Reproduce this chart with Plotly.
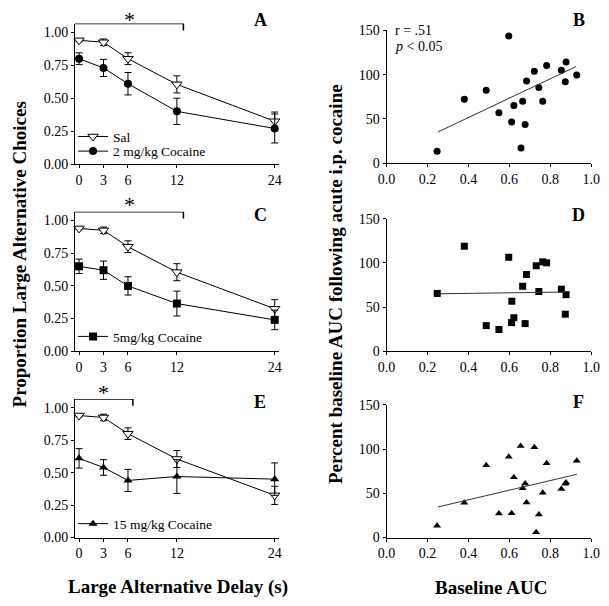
import plotly.graph_objects as go

W, H = 609, 606
FONT = "Liberation Serif"

# ---------------- data ----------------
delays = [0, 3, 6, 12, 24]
delay_ticks = ["0", "3", "6", "12", "24"]

sal_mean = [0.94, 0.925, 0.80, 0.605, 0.325]
sal_err = [0.01, 0.025, 0.045, 0.065, 0.07]

coc2_mean = [0.80, 0.73, 0.61, 0.40, 0.27]
coc2_err = [0.045, 0.065, 0.085, 0.10, 0.11]

coc5_mean = [0.65, 0.62, 0.50, 0.365, 0.24]
coc5_err = [0.055, 0.07, 0.07, 0.095, 0.075]

coc15_mean = [0.61, 0.54, 0.44, 0.47, 0.45]
coc15_err = [0.075, 0.06, 0.085, 0.13, 0.125]

b_x = [0.247, 0.38, 0.487, 0.549, 0.597, 0.611, 0.622, 0.657, 0.665, 0.677,
       0.684, 0.722, 0.731, 0.744, 0.763, 0.782, 0.854, 0.877, 0.873, 0.929]
b_y = [13.3, 72.2, 82.2, 56.8, 143.7, 46.4, 65.2, 17.0, 70.0, 43.5,
       92.9, 103.9, 154.8, 85.5, 70.0, 110.2, 105.0, 114.3, 91.8, 99.5]
b_fit_x = [0.25, 0.925]
b_fit_y = [35.0, 109.0]

d_x = [0.248, 0.38, 0.487, 0.549, 0.597, 0.611, 0.622, 0.612, 0.665, 0.677,
       0.684, 0.731, 0.744, 0.763, 0.782, 0.854, 0.877, 0.873]
d_y = [65.4, 118.8, 29.0, 24.6, 106.3, 32.4, 37.9, 56.6, 73.5, 31.3,
       86.8, 96.7, 67.6, 101.1, 100.0, 70.2, 64.0, 41.9]
d_fit_x = [0.25, 0.88]
d_fit_y = [65.0, 67.0]

f_x = [0.247, 0.38, 0.487, 0.549, 0.597, 0.611, 0.622, 0.655, 0.665, 0.677,
       0.684, 0.722, 0.731, 0.744, 0.763, 0.782, 0.854, 0.873, 0.877, 0.929]
f_y = [13.2, 39.2, 81.8, 27.1, 91.3, 27.5, 68.2, 103.4, 55.7, 61.2,
       39.6, 102.0, 5.9, 26.0, 50.6, 84.0, 55.0, 60.9, 62.3, 86.9]
f_fit_x = [0.25, 0.93]
f_fit_y = [34.5, 71.5]

# significance brackets: (start, end) in delay units, star x
brackets = {"A": (-0.5, 12.8, 6.2), "C": (-0.5, 12.8, 6.2), "E": (-0.5, 6.6, 3.05)}

# ---------------- layout helpers ----------------
def px_x(p):
    return p / W

def px_y(p):
    return 1 - p / H

left_x = [px_x(68), px_x(278)]
right_x = [px_x(389), px_x(600)]
rows_left = {"A": (161, 17), "C": (353, 210), "E": (544, 402)}
rows_right = {"B": (160, 24), "D": (353, 217), "F": (544, 408)}
star_px = {"A": 8, "C": 198, "E": 390}

fig = go.Figure()
BLK = "black"

def err(e):
    return dict(type="data", array=e, visible=True, color=BLK, thickness=1, width=3.5)

def add_left(xa, ya, coc_mean, coc_err, coc_name, coc_symbol, sal_legend, coc_legend):
    fig.add_trace(go.Scatter(
        x=delays, y=sal_mean, error_y=err(sal_err), mode="lines+markers",
        name="Sal", xaxis=xa, yaxis=ya, legend=sal_legend or "legend",
        showlegend=sal_legend is not None,
        line=dict(color=BLK, width=1),
        marker=dict(symbol="triangle-down", size=9, color="white",
                    line=dict(color=BLK, width=1)),
        cliponaxis=False))
    fig.add_trace(go.Scatter(
        x=delays, y=coc_mean, error_y=err(coc_err), mode="lines+markers",
        name=coc_name, xaxis=xa, yaxis=ya, legend=coc_legend,
        line=dict(color=BLK, width=1),
        marker=dict(symbol=coc_symbol, size=8, color=BLK),
        cliponaxis=False))

def add_right(xa, ya, xs, ys, fx, fy, symbol, size):
    fig.add_trace(go.Scatter(
        x=xs, y=ys, mode="markers", xaxis=xa, yaxis=ya, showlegend=False,
        marker=dict(symbol=symbol, size=size, color=BLK), cliponaxis=False))
    fig.add_trace(go.Scatter(
        x=fx, y=fy, mode="lines", xaxis=xa, yaxis=ya, showlegend=False,
        line=dict(color="#333333", width=1)))

add_left("x", "y", coc2_mean, coc2_err, "2 mg/kg Cocaine", "circle", "legend", "legend2")
add_left("x3", "y3", coc5_mean, coc5_err, "5mg/kg Cocaine", "square", None, "legend3")
add_left("x5", "y5", coc15_mean, coc15_err, "15 mg/kg Cocaine", "triangle-up", None, "legend4")

add_right("x2", "y2", b_x, b_y, b_fit_x, b_fit_y, "circle", 7)
add_right("x4", "y4", d_x, d_y, d_fit_x, d_fit_y, "square", 7)
add_right("x6", "y6", f_x, f_y, f_fit_x, f_fit_y, "triangle-up", 7)

tickfont = dict(family=FONT, size=14, color=BLK)
axis_common = dict(showline=True, linecolor=BLK, linewidth=1, ticks="outside",
                   ticklen=3, tickcolor=BLK, tickwidth=1, showgrid=False,
                   zeroline=False, tickfont=tickfont, mirror=False)

layout = dict(width=W, height=H, margin=dict(l=0, r=0, t=0, b=0),
              paper_bgcolor="white", plot_bgcolor="white",
              font=dict(family=FONT, color=BLK))

left_names = [("A", "x", "y", ""), ("C", "x3", "y3", "3"), ("E", "x5", "y5", "5")]
right_names = [("B", "x2", "y2", "2"), ("D", "x4", "y4", "4"), ("F", "x6", "y6", "6")]

for letter, xa, ya, sfx in left_names:
    b, t = rows_left[letter]
    layout["xaxis" + sfx] = dict(axis_common, domain=left_x, range=[-0.5, 24.5],
                                 tickvals=delays, ticktext=delay_ticks,
                                 anchor=ya)
    layout["yaxis" + sfx] = dict(axis_common, domain=[px_y(b), px_y(t)],
                                 range=[0, 1.067], tickvals=[0, 0.25, 0.5, 0.75, 1.0],
                                 tickformat=".2f", anchor=xa)

for letter, xa, ya, sfx in right_names:
    b, t = rows_right[letter]
    layout["xaxis" + sfx] = dict(axis_common, domain=right_x, range=[0, 1.0],
                                 tickvals=[0, 0.2, 0.4, 0.6, 0.8, 1.0],
                                 tickformat=".1f", anchor=ya)
    layout["yaxis" + sfx] = dict(axis_common, domain=[px_y(b), px_y(t)],
                                 range=[0, 150], tickvals=[0, 50, 100, 150],
                                 anchor=xa)

legend_common = dict(bgcolor="rgba(0,0,0,0)", borderwidth=0,
                     font=dict(family=FONT, size=13.5, color=BLK),
                     xanchor="left", yanchor="middle", tracegroupgap=0,
                     itemwidth=30, itemclick=False)
layout["legend"] = dict(legend_common, x=px_x(66), y=px_y(133))
layout["legend2"] = dict(legend_common, x=px_x(66), y=px_y(148))
layout["legend3"] = dict(legend_common, x=px_x(66), y=px_y(338))
layout["legend4"] = dict(legend_common, x=px_x(66), y=px_y(530))

fig.update_layout(**layout)

# brackets and stars
shapes = []
annotations = []
for letter, xa, ya, sfx in left_names:
    x0, x1, xs = brackets[letter]
    shapes.append(dict(type="line", xref=xa, yref=ya, x0=x0, x1=x1, y0=1.067, y1=1.067,
                       line=dict(color=BLK, width=1.5)))
    shapes.append(dict(type="line", xref=xa, yref=ya, x0=x1, x1=x1, y0=1.067, y1=1.015,
                       line=dict(color=BLK, width=1.5)))
    annotations.append(dict(text="*", xref=xa, yref="paper", x=xs,
                            y=px_y(star_px[letter] + 5),
                            showarrow=False, yanchor="middle",
                            font=dict(family=FONT, size=22, color=BLK)))

# panel letters
letters = {"A": (259, 13), "B": (587, 13), "C": (259, 213), "D": (587, 213),
           "E": (259, 405), "F": (587, 405)}
for k, (px, py) in letters.items():
    annotations.append(dict(text="<b>%s</b>" % k, xref="paper", yref="paper",
                            x=px_x(px), y=px_y(py), showarrow=False,
                            xanchor="center", yanchor="middle",
                            font=dict(family=FONT, size=18, color=BLK)))

# stats text panel B
annotations.append(dict(text="r = .51", xref="x2", yref="y2", x=0.03, y=150,
                        xanchor="left", yanchor="middle", showarrow=False,
                        font=dict(family=FONT, size=14, color=BLK)))
annotations.append(dict(text="<i>p</i> < 0.05", xref="x2", yref="y2", x=0.03, y=132,
                        xanchor="left", yanchor="middle", showarrow=False,
                        font=dict(family=FONT, size=14, color=BLK)))

# axis titles
annotations.append(dict(text="<b>Proportion Large Alternative Choices</b>",
                        xref="paper", yref="paper", x=px_x(11), y=px_y(254),
                        textangle=-90, showarrow=False, xanchor="center", yanchor="middle",
                        font=dict(family=FONT, size=19, color=BLK)))
annotations.append(dict(text="<b>Percent baseline AUC following acute i.p. cocaine</b>",
                        xref="paper", yref="paper", x=px_x(337), y=px_y(284),
                        textangle=-90, showarrow=False, xanchor="center", yanchor="middle",
                        font=dict(family=FONT, size=19, color=BLK)))
annotations.append(dict(text="<b>Large Alternative Delay (s)</b>",
                        xref="paper", yref="paper", x=px_x(174), y=px_y(595),
                        showarrow=False, xanchor="center", yanchor="middle",
                        font=dict(family=FONT, size=19, color=BLK)))
annotations.append(dict(text="<b>Baseline AUC</b>",
                        xref="paper", yref="paper", x=px_x(497), y=px_y(595),
                        showarrow=False, xanchor="center", yanchor="middle",
                        font=dict(family=FONT, size=19, color=BLK)))

fig.update_layout(shapes=shapes, annotations=annotations)
fig.write_html("out.html", config={"displayModeBar": False},
               post_script="document.body.style.margin='0';")
